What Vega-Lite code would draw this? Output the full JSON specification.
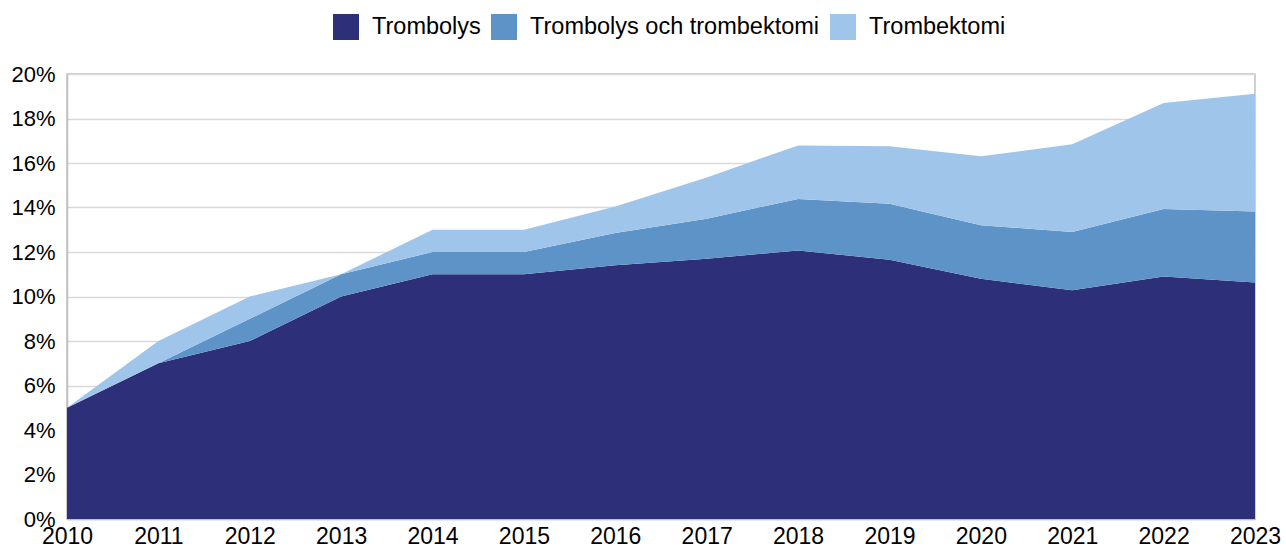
{
  "$schema": "https://vega.github.io/schema/vega-lite/v6.json",
  "width": 1188,
  "height": 445,
  "autosize": {"type": "none"},
  "padding": {"left": 67, "top": 74, "right": 31, "bottom": 30},
  "background": "white",
  "config": {
    "font": "Liberation Sans",
    "view": {"stroke": "#c0c0c0", "strokeWidth": 1.5},
    "axis": {"labelFont": "Liberation Sans", "labelColor": "#000000"}
  },
  "data": {
    "values": [
      {"year": 2010, "series": "Trombolys", "value": 0.05},
      {"year": 2011, "series": "Trombolys", "value": 0.07},
      {"year": 2012, "series": "Trombolys", "value": 0.08},
      {"year": 2013, "series": "Trombolys", "value": 0.10},
      {"year": 2014, "series": "Trombolys", "value": 0.11},
      {"year": 2015, "series": "Trombolys", "value": 0.11},
      {"year": 2016, "series": "Trombolys", "value": 0.114},
      {"year": 2017, "series": "Trombolys", "value": 0.117},
      {"year": 2018, "series": "Trombolys", "value": 0.1207},
      {"year": 2019, "series": "Trombolys", "value": 0.1165},
      {"year": 2020, "series": "Trombolys", "value": 0.108},
      {"year": 2021, "series": "Trombolys", "value": 0.1028},
      {"year": 2022, "series": "Trombolys", "value": 0.109},
      {"year": 2023, "series": "Trombolys", "value": 0.1063},
      {"year": 2010, "series": "Trombolys och trombektomi", "value": 0.0},
      {"year": 2011, "series": "Trombolys och trombektomi", "value": 0.0},
      {"year": 2012, "series": "Trombolys och trombektomi", "value": 0.01},
      {"year": 2013, "series": "Trombolys och trombektomi", "value": 0.01},
      {"year": 2014, "series": "Trombolys och trombektomi", "value": 0.01},
      {"year": 2015, "series": "Trombolys och trombektomi", "value": 0.01},
      {"year": 2016, "series": "Trombolys och trombektomi", "value": 0.0145},
      {"year": 2017, "series": "Trombolys och trombektomi", "value": 0.018},
      {"year": 2018, "series": "Trombolys och trombektomi", "value": 0.0231},
      {"year": 2019, "series": "Trombolys och trombektomi", "value": 0.0252},
      {"year": 2020, "series": "Trombolys och trombektomi", "value": 0.024},
      {"year": 2021, "series": "Trombolys och trombektomi", "value": 0.0262},
      {"year": 2022, "series": "Trombolys och trombektomi", "value": 0.0303},
      {"year": 2023, "series": "Trombolys och trombektomi", "value": 0.0319},
      {"year": 2010, "series": "Trombektomi", "value": 0.0},
      {"year": 2011, "series": "Trombektomi", "value": 0.01},
      {"year": 2012, "series": "Trombektomi", "value": 0.01},
      {"year": 2013, "series": "Trombektomi", "value": 0.0},
      {"year": 2014, "series": "Trombektomi", "value": 0.01},
      {"year": 2015, "series": "Trombektomi", "value": 0.01},
      {"year": 2016, "series": "Trombektomi", "value": 0.012},
      {"year": 2017, "series": "Trombektomi", "value": 0.0185},
      {"year": 2018, "series": "Trombektomi", "value": 0.0241},
      {"year": 2019, "series": "Trombektomi", "value": 0.0258},
      {"year": 2020, "series": "Trombektomi", "value": 0.031},
      {"year": 2021, "series": "Trombektomi", "value": 0.0394},
      {"year": 2022, "series": "Trombektomi", "value": 0.0477},
      {"year": 2023, "series": "Trombektomi", "value": 0.0529}
    ]
  },
  "transform": [
    {"calculate": "indexof(['Trombolys', 'Trombolys och trombektomi', 'Trombektomi'], datum.series)", "as": "stackOrder"}
  ],
  "mark": {"type": "area", "line": false, "interpolate": "linear"},
  "encoding": {
    "x": {
      "field": "year",
      "type": "quantitative",
      "scale": {"domain": [2010, 2023], "nice": false, "zero": false},
      "axis": {
        "title": null,
        "values": [2010, 2011, 2012, 2013, 2014, 2015, 2016, 2017, 2018, 2019, 2020, 2021, 2022, 2023],
        "format": "d",
        "labelFontSize": 23,
        "labelPadding": 6,
        "ticks": false,
        "grid": false,
        "domainColor": "#c0c0c0",
        "domainWidth": 1.5,
        "labelOverlap": false,
        "labelFlush": false
      }
    },
    "y": {
      "field": "value",
      "type": "quantitative",
      "stack": "zero",
      "scale": {"domain": [0, 0.2], "nice": false},
      "axis": {
        "title": null,
        "values": [0, 0.02, 0.04, 0.06, 0.08, 0.1, 0.12, 0.14, 0.16, 0.18, 0.2],
        "format": ".0%",
        "labelFontSize": 22,
        "labelPadding": 12,
        "ticks": false,
        "grid": true,
        "gridColor": "#d9d9d9",
        "gridWidth": 1.5,
        "domainColor": "#c0c0c0",
        "domainWidth": 1.5,
        "labelOverlap": false,
        "labelFlush": false
      }
    },
    "order": {"field": "stackOrder", "type": "quantitative", "sort": "ascending"},
    "color": {
      "field": "series",
      "type": "nominal",
      "scale": {
        "domain": ["Trombolys", "Trombolys och trombektomi", "Trombektomi"],
        "range": ["#2d2f78", "#5d93c6", "#a0c5ea"]
      },
      "legend": {
        "title": null,
        "orient": "none",
        "direction": "horizontal",
        "legendX": 266,
        "legendY": -60,
        "symbolType": "square",
        "symbolSize": 676,
        "symbolStrokeWidth": 0,
        "symbolOpacity": 1,
        "labelFontSize": 23.5,
        "labelOffset": 13,
        "columnPadding": 10,
        "labelColor": "#000000",
        "labelLimit": 400
      }
    }
  }
}
